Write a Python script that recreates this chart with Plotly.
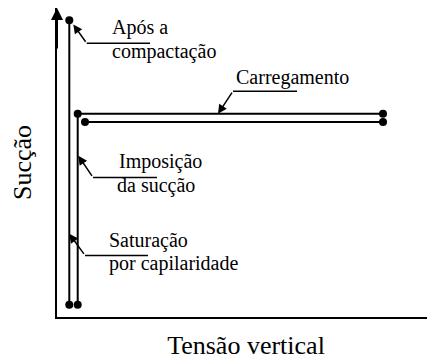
import plotly.graph_objects as go

# Stress path values (arbitrary units: vertical stress, suction)
compaction_x = [12.3, 12.3]          # after compaction -> saturation by capillarity
compaction_y = [289, 12]
imposition_x = [20.7, 20.7, 326]     # suction imposition -> loading
imposition_y = [12, 198, 198]
loading2_x = [28, 326]
loading2_y = [190, 190]

# Label texts
x_title = "Tensão vertical"
y_title = "Sucção"
labels = [
    # text, x, y (centre)
    ("Após a", 54, 282),
    ("compactação", 54, 259),
    ("Carregamento", 178, 233),
    ("Imposição", 61, 151),
    ("da sucção", 59, 128),
    ("Saturação", 51, 75),
    ("por capilaridade", 51, 52),
]
leaders = [
    # tip_x, tip_y, bend_x, bend_y, end_x
    (16.3, 285, 29.7, 266.7, 93),
    (161, 198, 176, 220, 240),
    (21.3, 157, 36, 136, 100),
    (12.3, 81, 28, 60, 91),
]

FONT = "Liberation Serif"
fig = go.Figure()

line_style = dict(color="black", width=2)
marker_style = dict(color="black", size=8)
fig.add_trace(go.Scatter(x=compaction_x, y=compaction_y, mode="lines+markers",
                         line=line_style, marker=marker_style, hoverinfo="skip"))
fig.add_trace(go.Scatter(x=imposition_x, y=imposition_y, mode="lines+markers",
                         line=line_style, marker=marker_style, hoverinfo="skip"))
fig.add_trace(go.Scatter(x=loading2_x, y=loading2_y, mode="lines+markers",
                         line=line_style, marker=marker_style, hoverinfo="skip"))

# leader lines: horizontal part as trace, diagonal part as arrow annotation
for tx, ty, bx, by, ex in leaders:
    fig.add_trace(go.Scatter(x=[bx, ex], y=[by, by], mode="lines",
                             line=dict(color="black", width=1.5), hoverinfo="skip"))
    fig.add_annotation(x=tx, y=ty, ax=bx, ay=by, xref="x", yref="y",
                       axref="x", ayref="y", text="", showarrow=True,
                       arrowhead=2, arrowsize=1.2, arrowwidth=1.5, arrowcolor="black",
                       standoff=0, startstandoff=0)

for text, x, y in labels:
    fig.add_annotation(x=x, y=y, xref="x", yref="y", text=text, showarrow=False,
                       xanchor="left", yanchor="middle", borderpad=0,
                       font=dict(family=FONT, size=20, color="black"))

# y axis arrowhead
fig.add_annotation(x=0, y=301, ax=0, ay=260, xref="x", yref="y", axref="x", ayref="y",
                   text="", showarrow=True, arrowhead=2, arrowsize=1.2,
                   arrowwidth=2, arrowcolor="black", standoff=0)

# page body has an 8px default margin, so the figure is sized to fit the window
fig.update_layout(
    width=427, height=352,
    margin=dict(l=49, r=0, t=0, b=43),
    paper_bgcolor="white", plot_bgcolor="white",
    showlegend=False,
    font=dict(family=FONT, color="black"),
)
fig.update_xaxes(range=[0, 378], showline=True, linewidth=2, linecolor="black",
                 showgrid=False, zeroline=False, showticklabels=False, ticks="",
                 automargin=False,
                 title=dict(text=x_title, font=dict(family=FONT, size=26), standoff=26))
fig.update_yaxes(range=[0, 301], showline=True, linewidth=2, linecolor="black",
                 showgrid=False, zeroline=False, showticklabels=False, ticks="",
                 automargin=False,
                 title=dict(text=y_title, font=dict(family=FONT, size=26), standoff=16))

fig.write_html("out.html")
